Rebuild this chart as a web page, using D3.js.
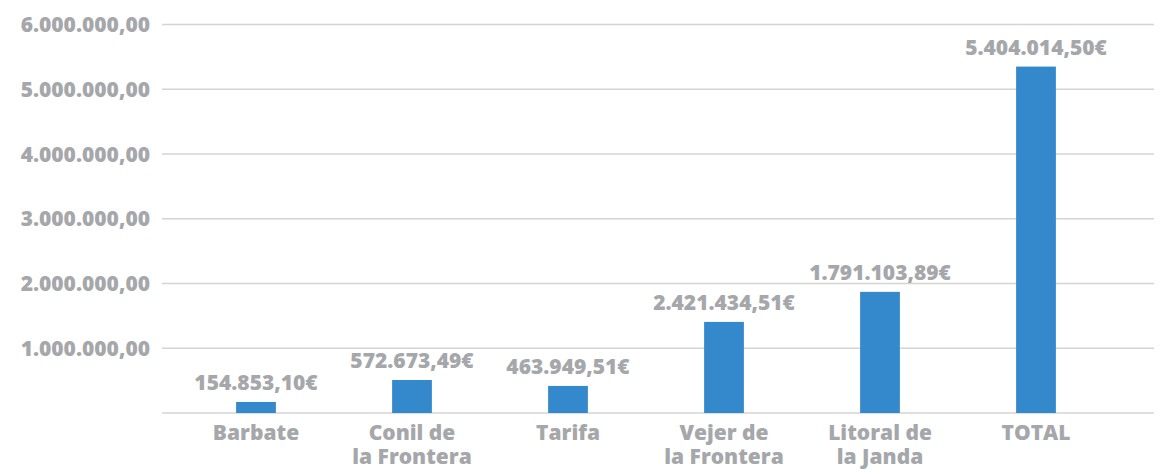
<!DOCTYPE html>
<html>
<head>
<meta charset="utf-8">
<script src="https://cdn.jsdelivr.net/npm/d3@7"></script>
<style>
  body { margin: 0; background: #fff; }
  text { font-family: "Open Sans", sans-serif; font-weight: 800; fill: #a5a7aa; }
</style>
</head>
<body>
<div id="chart"></div>
<script>
// data
const categories = [["Barbate"], ["Conil de", "la Frontera"], ["Tarifa"], ["Vejer de", "la Frontera"], ["Litoral de", "la Janda"], ["TOTAL"]];
const values = [170000, 510000, 418000, 1407000, 1871000, 5350000];
const valueLabels = ["154.853,10€", "572.673,49€", "463.949,51€", "2.421.434,51€", "1.791.103,89€", "5.404.014,50€"];
const yTicks = [0, 1000000, 2000000, 3000000, 4000000, 5000000, 6000000];

const width = 1161;
const height = 469;

const svg = d3.select("#chart").append("svg")
    .attr("width", width)
    .attr("height", height);

const locale = d3.formatLocale({decimal: ",", thousands: ".", grouping: [3], currency: ["", "€"]});
const fmt = locale.format(",.2f");

// scales
const names = categories.map(d => d.join(" "));
const xScale = d3.scaleBand()
    .domain(names)
    .range([178, 1114])
    .paddingInner(0.745)
    .paddingOuter(0.3725);

const yScale = d3.scaleLinear()
    .domain([0, 6000000])
    .range([413, 24.5]);

// gridlines
svg.append("g").selectAll("line")
    .data(yTicks)
    .enter()
    .append("line")
    .attr("x1", 162)
    .attr("x2", 1154)
    .attr("y1", d => yScale(d))
    .attr("y2", d => yScale(d))
    .attr("stroke", "#d4d4d4")
    .attr("stroke-width", 1.5);

// y labels (no label at zero)
svg.append("g").selectAll("text")
    .data(yTicks.filter(d => d > 0))
    .enter()
    .append("text")
    .attr("x", 150)
    .attr("y", d => yScale(d))
    .attr("dy", "0.36em")
    .attr("text-anchor", "end")
    .attr("font-size", 21)
    .text(d => fmt(d));

// bars
svg.append("g").selectAll("rect")
    .data(values)
    .enter()
    .append("rect")
    .attr("x", (d, i) => xScale(names[i]))
    .attr("y", d => yScale(d))
    .attr("width", xScale.bandwidth())
    .attr("height", d => yScale(0) - yScale(d))
    .attr("fill", "#3389cb");

// value labels
svg.append("g").selectAll("text")
    .data(values)
    .enter()
    .append("text")
    .attr("x", (d, i) => xScale(names[i]) + xScale.bandwidth() / 2)
    .attr("y", d => yScale(d) - 12)
    .attr("text-anchor", "middle")
    .attr("font-size", 21)
    .text((d, i) => valueLabels[i]);

// category labels
const cat = svg.append("g").selectAll("text")
    .data(categories)
    .enter()
    .append("text")
    .attr("text-anchor", "middle")
    .attr("font-size", 21)
    .attr("transform", (d, i) => `translate(${xScale(names[i]) + xScale.bandwidth() / 2}, 440)`);

cat.selectAll("tspan")
    .data(d => d)
    .enter()
    .append("tspan")
    .attr("x", 0)
    .attr("y", (d, i) => i * 24)
    .text(d => d);
</script>
</body>
</html>
